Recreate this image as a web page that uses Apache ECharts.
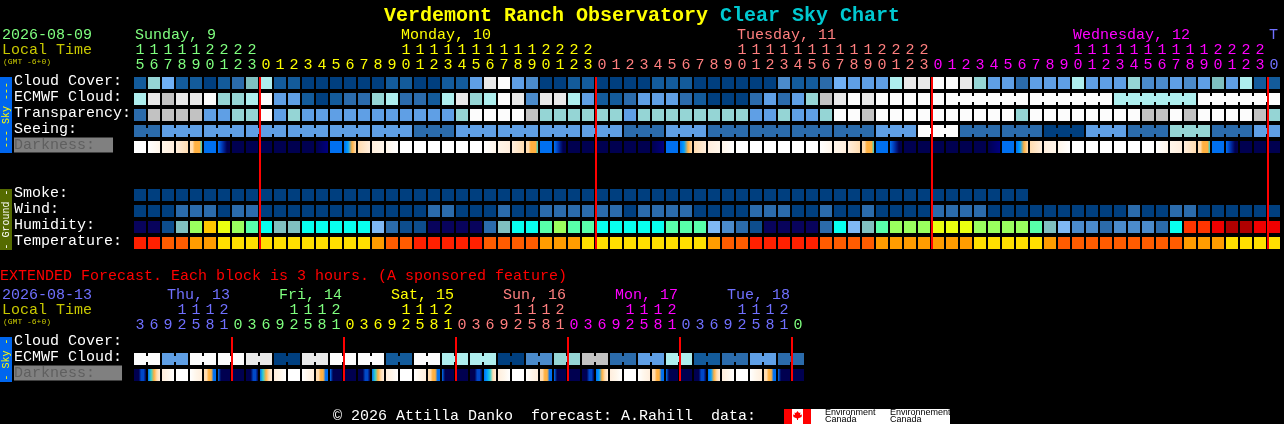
<!DOCTYPE html>
<html><head><meta charset="utf-8">
<style>html,body{margin:0;padding:0;background:#000}#c{width:1284px;height:424px}</style>
<script src="https://cdn.jsdelivr.net/npm/echarts@6/dist/echarts.min.js"></script>
</head><body><div id="c"></div>
<script>
// ---------- data (levels index into the palettes below) ----------
const hours = [15,16,17,18,19,20,21,22,23,
 0,1,2,3,4,5,6,7,8,9,10,11,12,13,14,15,16,17,18,19,20,21,22,23,
 0,1,2,3,4,5,6,7,8,9,10,11,12,13,14,15,16,17,18,19,20,21,22,23,
 0,1,2,3,4,5,6,7,8,9,10,11,12,13,14,15,16,17,18,19,20,21,22,23,0];
const cloudCover = [1,7,5,1,1,0,1,2,6,8, 1,1,0,0,0,0,0,0,1,1,0,
 0,1,1,4,10,11,4,3,0,0,1,1,0,0,0,0,1,1,1,0,0,0,0,0,0,3,1,1,2,5,4,
 4,4,8,10,10,11,11,10,7,4,4,2,4,4,4,8,4,4,4,7,3,3,4,3,4,6,4,8,1,1];
const ecmwfCloud = [8,10,9,10,10,11,7,7,8,11,4,4,1,0,1,2,2,7,8,2,2,
 1,8,10,7,8,11,10,3,10,10,8,4,1,1,2,4,4,4,2,1,0,0,0,2,4,2,4,7,9,10,11,
 10,11,11,11,11,11,11,11,11,11,11,11,11,11,11,11,11,11,8,8,8,8,8,8,11,11,11,11,11,11];
const transparency = [2,9,9,9,9,4,4,7,7,11,4,7,4,4,4,4,4,4,4,4,4,
 4,4,7,11,11,11,11,9,7,7,7,7,7,7,4,7,7,7,7,7,7,7,7,4,4,7,4,4,7,11,11,
 9,11,11,11,11,11,11,11,11,11,11,7,11,11,11,11,11,11,11,11,9,9,11,9,11,11,11,11,9,7];
const seeing = [2,2,4,4,4,4,4,4,4,4,4,4,4,4,4,4,4,4,4,4,2,2,2,
 4,4,4,4,4,4,4,4,4,4,4,4,2,2,2,4,4,4,2,2,2,2,2,2,2,2,2,2,2,2,
 4,4,4,11,11,11,2,2,2,2,2,2,0,0,0,4,4,4,2,2,2,7,7,7,2,2,2,4,4];
const smoke = [0,0,0,0,0,0,0,0,0,0,0,0,0,0,0,0,0,0,0,0,0,0,0,0,0,0,0,0,0,0,0,0,
 0,0,0,0,0,0,0,0,0,0,0,0,0,0,0,0,0,0,0,0,0,0,0,0,0,0,0,0,0,0,0,0];
const wind = [0,0,0,2,2,2,0,2,2,0,0,0,0,0,0,0,0,0,0,0,0,
 2,2,0,0,0,2,0,0,2,2,2,2,2,2,0,2,2,2,2,0,0,0,0,2,2,2,0,0,2,0,0,
 2,0,0,0,0,2,2,2,2,0,0,0,0,0,0,0,0,0,0,2,0,0,2,2,0,0,0,0,0,0];
const humidity = [0,0,1,5,8,10,9,8,7,6,5,5,6,6,6,6,6,4,2,1,1,
 0,0,0,0,2,5,6,6,7,8,7,7,6,6,6,6,6,7,7,7,4,3,2,1,0,0,0,0,2,6,4,
 5,7,8,8,8,9,9,9,8,8,8,8,7,5,4,3,3,2,3,3,3,2,6,11,11,12,13,13,12,12];
const temperature = [0,0,1,1,2,2,3,3,3,3,3,3,3,3,3,3,3,2,1,1,0,
 0,0,0,0,1,1,1,1,2,2,2,3,3,3,3,3,3,3,3,3,2,1,1,0,0,0,0,0,1,1,1,
 1,2,2,2,2,2,2,2,3,3,3,3,3,2,1,1,1,1,1,1,1,1,1,2,2,2,3,3,3,3];
const darkness = [[0,0],[0,1],[1,2],[2,3],[3,3,4,4,4,5],[6,6],[6,8,9,10,10],
 [10,10],[10,10],[10,10],[10,10],[10,10],[10,10],[10,11],[6,6],[6,7,4,3],[3,2],[2,1],[1,0],[0,0],[0,0],
 [0,0],[0,0],[0,0],[0,0],[0,1],[1,2],[2,3],[3,3,4,4,4,5],[6,6],[6,8,9,10,10],
 [10,10],[10,10],[10,10],[10,10],[10,10],[10,10],[10,11],[6,6],[6,7,4,3],[3,2],[2,1],[1,0],
 [0,0],[0,0],[0,0],[0,0],[0,0],[0,0],[0,1],[1,2],[2,3],[3,3,4,4,4,5],[6,6],[6,8,9,10,10],
 [10,10],[10,10],[10,10],[10,10],[10,10],[10,10],[10,11],[6,6],[6,7,4,3],[3,2],[2,1],[1,0],
 [0,0],[0,0],[0,0],[0,0],[0,0],[0,0],[0,1],[1,2],[2,3],[3,3,4,4,4,5],[6,6],[6,8,9,10,10],[10,10],[10,10],[10,10]];
const seeingJoined = [[0,1],[2,4],[5,7],[8,10],[11,13],[14,16],[17,19],[20,22],[23,25],[26,28],[29,31],[32,34],[35,37],[38,40],[41,43],[44,46],[47,49],[50,52],[53,55],[56,58],[59,61],[62,64],[65,67],[68,70],[71,73],[74,76],[77,79],[80,81]];
const ecmwfJoined = [[58,63],[64,69],[70,75],[76,81]];
const rowNames = ['Cloud Cover:','ECMWF Cloud:','Transparency:','Seeing:','Darkness:  ','','','Smoke:','Wind:','Humidity:','Temperature:'];
const dayBreaks = [9,33,57,81];
const dayNames = [['Sunday, 9',0],['Monday, 10',19],['Tuesday, 11',43],['Wednesday, 12',67],['T',81]];

const extHours = [3,6,9,12,15,18,21,0,3,6,9,12,15,18,21,0,3,6,9,12,15,18,21,0,3,6,9,12,15,18,21,0,3,6,9,12,15,18,21,0,3,6,9,12,15,18,21,0];
const extCloud = [11,11,4,4,11,11,11,11,10,10,0,0,10,10,11,11,11,11,1,1,11,11,8,8,8,8,0,0,3,3,7,7,9,9,2,2,4,4,8,8,1,1,2,2,4,4,2,2];
const extDarkness = [[10,10,10,8,8,10],[6,5,4,3,2],[2,1,0],[0,0],[0,1,2],[3,3,4,4,6,6],[6,10,10,10,10],[10,10],
 [10,10,10,8,8,10],[6,5,4,3,2],[2,1,0],[0,0],[0,1,2],[3,3,4,4,6,6],[6,10,10,10,10],[10,10],
 [10,10,10,8,8,10],[6,5,4,3,2],[2,1,0],[0,0],[0,1,2],[3,3,4,4,6,6],[6,10,10,10,10],[10,10],
 [10,10,10,8,8,10],[6,7,5,3,2],[2,1,0],[0,0],[0,1,2],[3,3,4,4,6,6],[6,10,10,10,10],[10,10],
 [10,10,10,8,8,10],[6,7,4,3,2],[2,1,0],[0,0],[0,1,2],[3,3,4,4,6,6],[6,10,10,10,10],[10,10],
 [10,10,10,8,8,10],[6,7,4,3,2],[2,1,0],[0,0],[0,1,2],[3,3,4,4,6,6],[6,10,10,10,10],[10,10]];
const extJoined = [[0,1],[2,3],[4,5],[6,7],[8,9],[10,11],[12,13],[14,15],[16,17],[18,19],[20,21],[22,23],[24,25],[26,27],[28,29],[30,31],[32,33],[34,35],[36,37],[38,39],[40,41],[42,43],[44,45],[46,47]];
const extRowNames = ['Cloud Cover:','ECMWF Cloud:','Darkness:   '];
const extBreaks = [7,15,23,31,39,47];
const extDayNames = [['Thu, 13',2],['Fri, 14',10],['Sat, 15',18],['Sun, 16',26],['Mon, 17',34],['Tue, 18',42]];

// ---------- styles ----------
const cloudPalette = ['#003f7f','#135b9b','#2b6bab','#4b8bcb','#5f9fe5','#70b0f5','#7fbfbf','#95d5d5','#aeeeee','#c2c2c2','#e9e9e9','#fcfcfc'];
const humidityPalette = ['#08035c','#0d4d8d','#2b6bab','#4b8bcb','#7fb8f5','#80c0c0','#08ffef','#58ffaa','#9aff5e','#eaff10','#ffc800','#ff3500','#f00000','#b00000'];
const tempPalette = ['#ff2000','#ff5c00','#ff9c00','#ffdf00'];
const darkPalette = ['#ffffff','#fff6ea','#ffeedd','#ffdcb0','#ffb040','#30d0d0','#0070f0','#00a0ff','#0048c8','#002090','#000050','#000080'];
const mainColors = ['#7fff7f','#ffff00','#ff7f7f','#ff00ff','#7070ff'];
const extColors = ['#7070ff','#7fff7f','#ffff00','#ff7f7f','#ff00ff','#7070ff','#7fff7f'];
const MONO = '"Liberation Mono"';
const FS = 15;

// ---------- helpers ----------
function colorIdx(breaks, i){ let n = 0; breaks.forEach(b => { if (i >= b) n++; }); return n; }
function joinedNext(ranges, c){ return ranges && ranges.some(r => r[0] <= c && c < r[1]) ? 1 : 0; }

function cellRender(palette){
  return function(params, api){
    const p = api.coord([api.value(0), api.value(1)]);
    const s = api.size([1,1]);
    const w = s[0]-2, h = s[1]-4;
    const fill = palette[api.value(2)];
    const children = [{type:'rect', shape:{x:p[0]-w/2, y:p[1]-h/2, width:w, height:h}, style:{fill}}];
    if (api.value(3)) children.push({type:'rect', shape:{x:p[0]+w/2, y:p[1]-3, width:2, height:6}, style:{fill}});
    return {type:'group', children};
  };
}
function cellSeries(values, rowIdx, palette, joined, gridIdx){
  const data = [];
  values.forEach((v,c) => data.push([c, rowIdx, v, joinedNext(joined, c)]));
  return {type:'custom', xAxisIndex:gridIdx, yAxisIndex:gridIdx, coordinateSystem:'cartesian2d', silent:true, data,
    encode:{x:0,y:1}, renderItem:cellRender(palette)};
}
function darkSeries(stopsList, rowIdx, gridIdx){
  return {type:'custom', xAxisIndex:gridIdx, yAxisIndex:gridIdx, silent:true,
    data: stopsList.map((_,c)=>[c,rowIdx]), encode:{x:0,y:1},
    renderItem(params, api){
      const c = api.value(0), p = api.coord([c, api.value(1)]), s = api.size([1,1]);
      const w = s[0]-2, h = s[1]-4, st = stopsList[c];
      const stops = st.map((d,k)=>({offset:k/(st.length-1), color:darkPalette[d]}));
      return {type:'rect', shape:{x:p[0]-w/2,y:p[1]-h/2,width:w,height:h},
        style:{fill:new echarts.graphic.LinearGradient(0,0,1,0,stops)}};
    }};
}
function breakSeries(breaks, firstRow, lastRow, gridIdx){
  return {type:'custom', xAxisIndex:gridIdx, yAxisIndex:gridIdx, silent:true, z:5,
    data: breaks.map(b=>[b,firstRow]), encode:{x:0,y:1},
    renderItem(params, api){
      const c = api.value(0), s = api.size([1,1]);
      const a = api.coord([c, firstRow]), b = api.coord([c, lastRow]);
      const top = a[1]-(s[1]-4)/2, bot = b[1]+(s[1]-4)/2;
      return {type:'rect', shape:{x:a[0]-s[0]/2, y:top, width:2, height:bot-top}, style:{fill:'#ff0000'}};
    }};
}
function dayLabelSeries(names, colors, dx, gridIdx){
  return {type:'custom', xAxisIndex:gridIdx, yAxisIndex:gridIdx, silent:true,
    data: names.map((n,i)=>[n[1],0,i]), encode:{x:0,y:1},
    renderItem(params, api){
      const i = api.value(2), p = api.coord([api.value(0), 0]);
      return {type:'text', x:p[0]+dx, y:p[1]-48, style:{text:names[i][0], fill:colors[i], font:FS+'px '+MONO, textAlign:'left', textVerticalAlign:'middle'}};
    }};
}
function xAxis(list, breaks, colors, gridIdx){
  return {type:'category', gridIndex:gridIdx, data:list.map(String), position:'top',
    axisLine:{show:false}, axisTick:{show:false}, splitLine:{show:false},
    axisLabel:{show:true, interval:0, margin:2, fontFamily:MONO, fontSize:FS, lineHeight:15,
      hideOverlap:false, verticalAlign:'bottom',
      formatter:(v)=>{ const n=+v; return (n>=10?Math.floor(n/10):' ')+'\n'+(n%10); },
      color:(v,i)=>colors[colorIdx(breaks,i)]}};
}
function yAxis(list, gridIdx, margin){
  return {type:'category', gridIndex:gridIdx, inverse:true, data:list,
    axisLine:{show:false}, axisTick:{show:false}, splitLine:{show:false},
    axisLabel:{show:true, interval:0, margin:margin, align:'left', fontFamily:MONO, fontSize:FS, color:'#ffffff',
      verticalAlign:'middle', padding:[0,0,4,0],
      formatter:v=> v.indexOf('Darkness')===0 ? '{d|'+v+'}' : v,
      rich:{d:{fontFamily:MONO,fontSize:FS,color:'#5f5f5f',backgroundColor:'#808080',lineHeight:15,height:15}}}};
}
function txt(text,x,y,fill,size,extra){
  return Object.assign({type:'text',x,y,silent:true,z:10,
    style:{text,fill,font:(extra&&extra.bold?'bold ':'')+size+'px '+MONO,textAlign:'left',textVerticalAlign:'middle'}},
    extra&&extra.el||{});
}
function sideBar(y0,y1,color,label,fill){
  return [{type:'rect',silent:true,shape:{x:0,y:y0,width:12,height:y1-y0},style:{fill:color}},
    {type:'text',silent:true,x:6,y:(y0+y1)/2,rotation:Math.PI/2,z:10,
     style:{text:label,fill,font:'10px '+MONO,textAlign:'center',textVerticalAlign:'middle'}}];
}

const chart = echarts.init(document.getElementById('c'),null,{renderer:'canvas'});
chart.setOption({
  animation:false, backgroundColor:'#000000',
  title:{left:'center',top:1,
    text:'{a|Verdemont Ranch Observatory }{b|Clear Sky Chart}',
    textStyle:{rich:{a:{fontFamily:MONO,fontWeight:'bold',fontSize:20,color:'#ffff00'},b:{fontFamily:MONO,fontWeight:'bold',fontSize:20,color:'#00c8d0'}}}},
  grid:[{left:133,top:75,width:1148,height:176},{left:133,top:335,width:672,height:48}],
  xAxis:[xAxis(hours,dayBreaks,mainColors,0),xAxis(extHours,extBreaks,extColors,1)],
  yAxis:[yAxis(rowNames,0,119),yAxis(extRowNames,1,119)],
  series:[
    cellSeries(cloudCover,0,cloudPalette,null,0),
    cellSeries(ecmwfCloud,1,cloudPalette,ecmwfJoined,0),
    cellSeries(transparency,2,cloudPalette,null,0),
    cellSeries(seeing,3,cloudPalette,seeingJoined,0),
    darkSeries(darkness,4,0),
    cellSeries(smoke,7,cloudPalette,null,0),
    cellSeries(wind,8,cloudPalette,null,0),
    cellSeries(humidity,9,humidityPalette,null,0),
    cellSeries(temperature,10,tempPalette,null,0),
    breakSeries(dayBreaks,0,10,0),
    dayLabelSeries(dayNames,mainColors,-5,0),
    cellSeries(extCloud,1,cloudPalette,extJoined,1),
    darkSeries(extDarkness,2,1),
    breakSeries(extBreaks,0,2,1),
    dayLabelSeries(extDayNames,extColors.slice(0,6),-1,1)
  ],
  graphic:{elements:[
    ...sideBar(77,153,'#0066ee','--- Sky ---','#ffff00'),
    ...sideBar(189,250,'#556b00','- Ground -','#ffffff'),
    ...sideBar(337,382,'#0066ee','- Sky -','#ffff00'),
    txt('2026-08-09',2,35,'#7fff7f',FS),
    txt('Local Time',2,50,'#c8c800',FS),
    txt('(GMT -6+0)',3,62,'#c8c800',8),
    txt('EXTENDED Forecast. Each block is 3 hours. (A sponsored feature)',0,276,'#ff0000',FS),
    txt('2026-08-13',2,295,'#7070ff',FS),
    txt('Local Time',2,310,'#c8c800',FS),
    txt('(GMT -6+0)',3,322,'#c8c800',8),
    txt('© 2026 Attilla Danko  forecast: A.Rahill  data:',333,416,'#ffffff',FS),
    {type:'rect',silent:true,shape:{x:811,y:409,width:139,height:15},style:{fill:'#ffffff'}},
    {type:'rect',silent:true,shape:{x:784,y:409,width:8,height:15},style:{fill:'#ff0000'}},
    {type:'rect',silent:true,shape:{x:792,y:409,width:11,height:15},style:{fill:'#ffffff'}},
    {type:'rect',silent:true,shape:{x:803,y:409,width:8,height:15},style:{fill:'#ff0000'}},
    {type:'polygon',silent:true,shape:{points:[[797.5,411],[799,413],[800.5,412.5],[800,415],[802,414.5],[801.5,417],[798,418.5],[798,420],[797,420],[797,418.5],[793.5,417],[793,414.5],[795,415],[794.5,412.5],[796,413]]},style:{fill:'#ff0000'}},
    {type:'text',silent:true,x:825,y:413,style:{text:'Environment',fill:'#000',font:'9px "Liberation Sans"',textVerticalAlign:'middle'}},
    {type:'text',silent:true,x:825,y:420,style:{text:'Canada',fill:'#000',font:'9px "Liberation Sans"',textVerticalAlign:'middle'}},
    {type:'text',silent:true,x:890,y:413,style:{text:'Environnement',fill:'#000',font:'9px "Liberation Sans"',textVerticalAlign:'middle'}},
    {type:'text',silent:true,x:890,y:420,style:{text:'Canada',fill:'#000',font:'9px "Liberation Sans"',textVerticalAlign:'middle'}}
  ]}
});
</script></body></html>
